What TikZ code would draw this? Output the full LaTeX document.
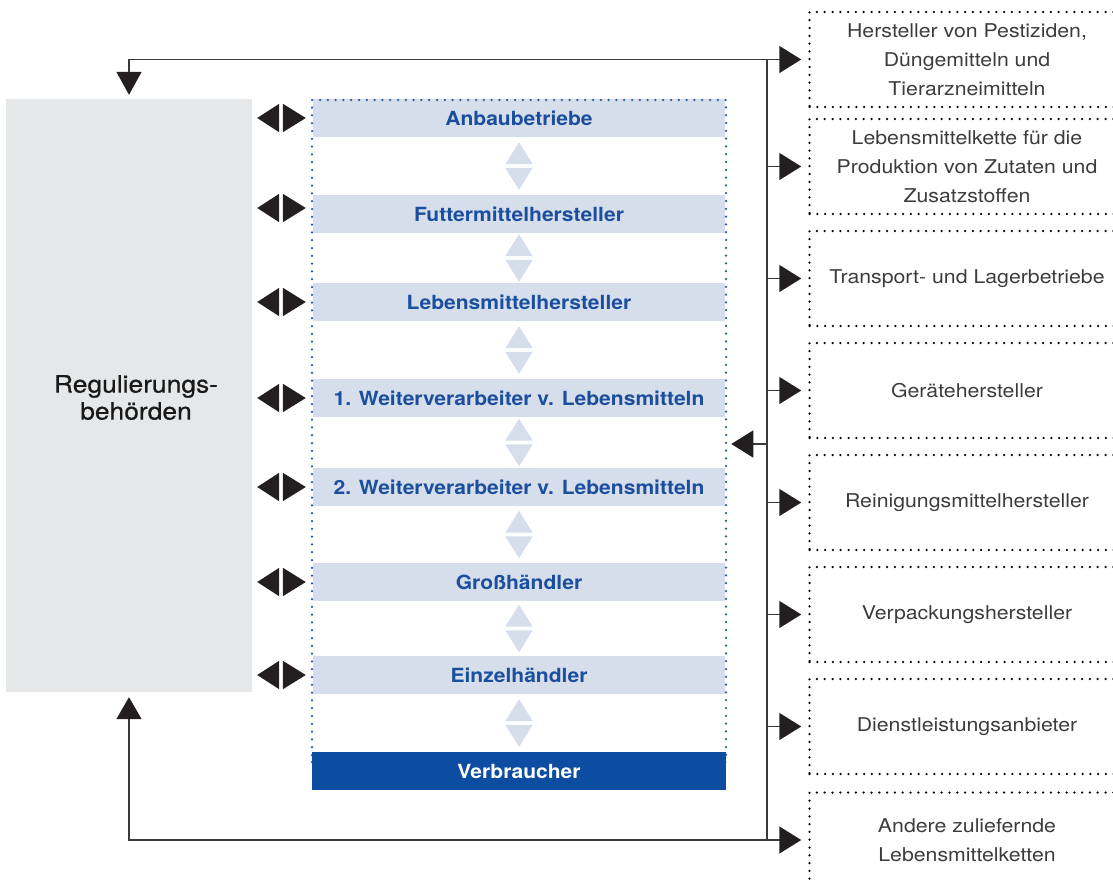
\documentclass[tikz,border=0pt]{standalone}
\usepackage{fontspec}
\setmainfont{TeX Gyre Heros}
\newfontfamily\blufont[FakeStretch=1.08]{TeX Gyre Heros}
\newfontfamily\grayfont[FakeStretch=1.12]{TeX Gyre Heros}
\newfontfamily\regfont[FakeStretch=1.1,FakeBold=0.5]{TeX Gyre Heros}
\usetikzlibrary{arrows.meta,fit}
\definecolor{reggray}{HTML}{E6E7E8}
\definecolor{barblue}{HTML}{D6DEEB}
\definecolor{textblue}{HTML}{1B4F9E}
\definecolor{verbblue}{HTML}{0C4DA2}
\definecolor{dotblue}{HTML}{1E5BAA}
\definecolor{triblack}{HTML}{231F20}
\definecolor{connc}{HTML}{3A3A3A}
\definecolor{stext}{HTML}{3C3C3C}
\tikzset{
  regbox/.style={rectangle, fill=reggray, minimum width=246pt, minimum height=593pt, inner sep=0pt},
  regtext/.style={align=center, inner sep=0pt, font=\regfont\fontsize{24}{27}\selectfont, text=black!90},
  barbox/.style={rectangle, fill=barblue, minimum width=412pt, minimum height=38pt, inner sep=0pt, text=textblue, font=\blufont\bfseries\fontsize{19.5}{23}\selectfont},
  verbbox/.style={barbox, fill=verbblue, text=white, minimum width=414pt},
  chainframe/.style={draw=dotblue, line width=2.5pt, line cap=round, dash pattern=on 0pt off 7.8pt, inner sep=0pt},
  sbox/.style={rectangle, draw=black, line width=2.5pt, line cap=round, dash pattern=on 0pt off 7.8pt, minimum width=315pt, minimum height=95pt, inner sep=0pt, align=center, text=stext, font=\grayfont\fontsize{19}{29}\selectfont},
  conn/.style={draw=connc, line width=1.5pt},
  rtip/.style={-{Triangle[length=22pt,width=27pt,color=triblack]}},
  dbl/.style={draw=white, line width=2pt, {Triangle[length=22pt,width=28pt,color=triblack]}-{Triangle[length=23pt,width=28pt,color=triblack]}, shorten <=5pt, shorten >=7pt},
  ud/.style={draw=white, line width=2pt, {Triangle[length=22pt,width=27pt,color=barblue]}-{Triangle[length=22pt,width=27pt,color=barblue]}},
}
\begin{document}
\begin{tikzpicture}[x=1pt,y=-1pt]
\useasboundingbox (0,0) rectangle (1113,884);
\clip (0,0) rectangle (1113,884);

% regulatory box
\node[regbox] (reg) at (129,395.5) {};
\node[regtext] (regt) at (136,397.5) {Regulierungs-\\behörden};

% chain bars
\node[barbox] (anb) at (519,118) {Anbaubetriebe};
\node[barbox] (fut) at (519,214) {Futtermittelhersteller};
\node[barbox] (leb) at (519,302) {Lebensmittelhersteller};
\node[barbox] (wv1) at (519,398) {1. Weiterverarbeiter v. Lebensmitteln};
\node[barbox] (wv2) at (519,487) {2. Weiterverarbeiter v. Lebensmitteln};
\node[barbox] (gro) at (519,582) {Großhändler};
\node[barbox] (ein) at (519,675) {Einzelhändler};

% dotted frame
\node[chainframe, fit={(312,100) (726,762)}] (chain) {};
\node[verbbox] (ver) at (519,771) {Verbraucher};

% up/down arrows between stages
\draw[ud, shorten <=5pt, shorten >=5pt] (anb.south) -- (fut.north);
\draw[ud, shorten <=1pt, shorten >=1pt] (fut.south) -- (leb.north);
\draw[ud, shorten <=5pt, shorten >=5pt] (leb.south) -- (wv1.north);
\draw[ud, shorten <=1.5pt, shorten >=1.5pt] (wv1.south) -- (wv2.north);
\draw[ud, shorten <=4.5pt, shorten >=4.5pt] (wv2.south) -- (gro.north);
\draw[ud, shorten <=3.5pt, shorten >=3.5pt] (gro.south) -- (ein.north);
\draw[ud, shorten <=5pt, shorten >=5pt] (ein.south) -- (ver.north);

% double arrows regulator <-> stages
\draw[dbl] (reg.east |- anb.west) -- (anb.west);
\draw[dbl] ([yshift=6pt]reg.east |- fut.west) -- ([yshift=6pt]fut.west);
\draw[dbl] (reg.east |- leb.west) -- (leb.west);
\draw[dbl] (reg.east |- wv1.west) -- (wv1.west);
\draw[dbl] (reg.east |- wv2.west) -- (wv2.west);
\draw[dbl] (reg.east |- gro.west) -- (gro.west);
\draw[dbl] (reg.east |- ein.west) -- (ein.west);

% supplier boxes
\node[sbox] (s1) at (967,59.5) {Hersteller von Pestiziden,\\Düngemitteln und\\Tierarzneimitteln};
\node[sbox] (s2) at (967,166.5) {Lebensmittelkette für die\\Produktion von Zutaten und\\Zusatzstoffen};
\node[sbox] (s3) at (967,278.5) {Transport- und Lagerbetriebe};
\node[sbox] (s4) at (967,390.5) {Gerätehersteller};
\node[sbox] (s5) at (967,502.5) {Reinigungsmittelhersteller};
\node[sbox] (s6) at (967,614.5) {Verpackungshersteller};
\node[sbox] (s7) at (967,726.5) {Dienstleistungsanbieter};
\node[sbox] (s8) at (967,840) {Andere zuliefernde\\Lebensmittelketten};

% spine
\coordinate (sp) at (767,0);
\coordinate (jn) at (767,444);
\draw[conn] (s1.west -| sp) -- (s8.west -| sp);
\foreach \s in {s1,s2,s3,s4,s5,s6,s7,s8}{
  \draw[conn, rtip, shorten >=7pt] (\s.west -| sp) -- (\s.west);
}
\draw[conn, -{Triangle[length=23pt,width=25pt,color=triblack]}, shorten >=4pt] (s1.west -| sp) -| (reg.north);
\draw[conn, -{Triangle[length=22pt,width=25pt,color=triblack]}, shorten >=5pt] (s8.west -| sp) -| (reg.south);
\draw[conn, -{Triangle[length=22pt,width=27pt,color=triblack]}, shorten >=4pt] (jn) -- (jn -| chain.east);
\end{tikzpicture}
\end{document}
